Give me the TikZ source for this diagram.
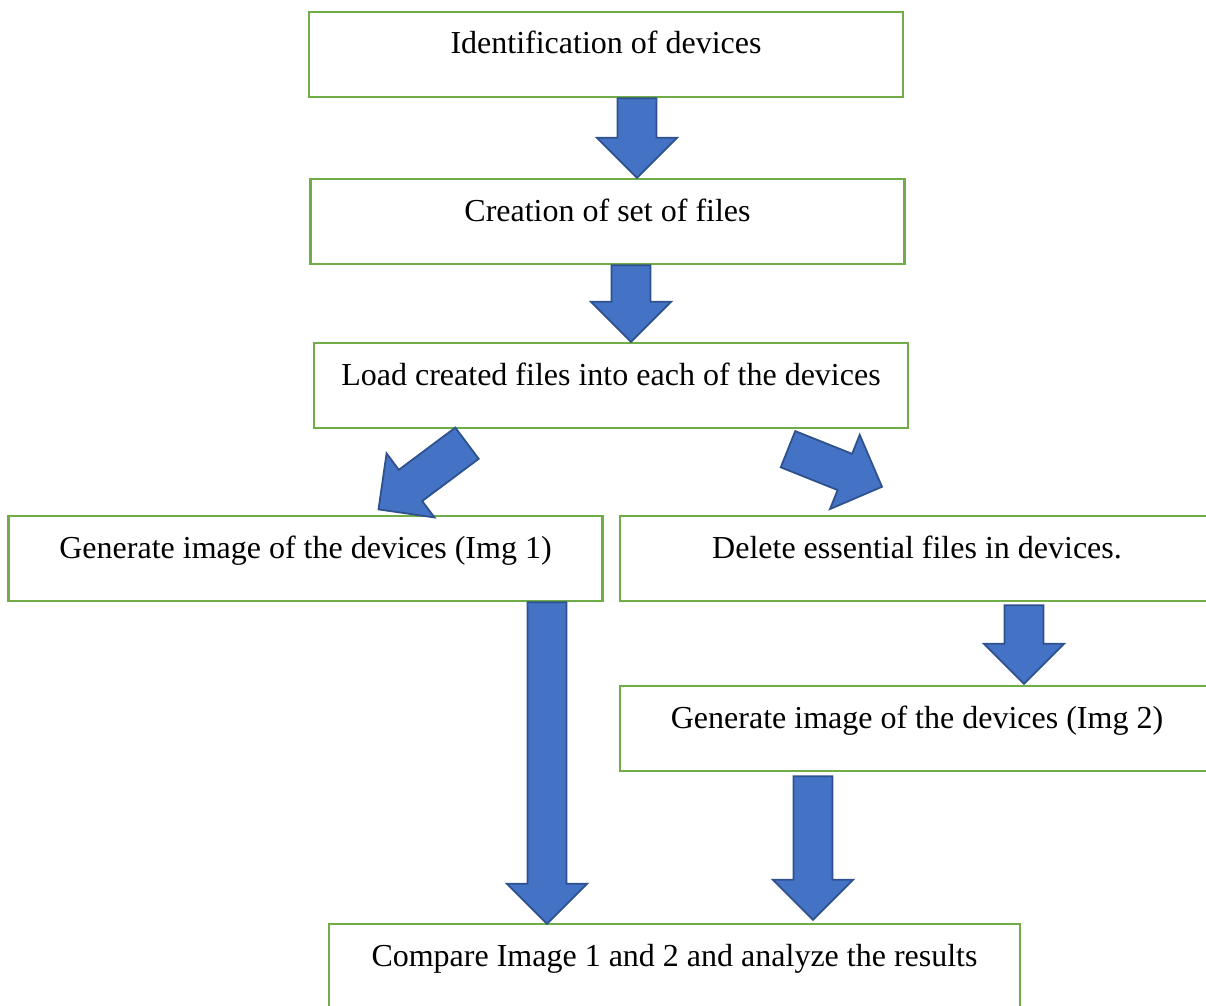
\documentclass[tikz,border=0pt]{standalone}
\usepackage{fontspec}
\setmainfont{Liberation Serif}
\usetikzlibrary{calc,positioning}

\definecolor{boxgreen}{HTML}{70AD47}
\definecolor{arrowblue}{HTML}{4472C4}
\definecolor{arrowedge}{HTML}{2F528F}

% fat arrow from tail point #1 to tip point #2
\newcommand{\fatarrow}[2]{%
	\draw[fat arr] ($(#1)!9.75pt!90:(#2)$) -- ($(#2)!20pt!(#1)!9.75pt!90:(#2)$)
	-- ($(#2)!20pt!(#1)!20pt!90:(#2)$) -- (#2)
	-- ($(#2)!20pt!(#1)!20pt!-90:(#2)$) -- ($(#2)!20pt!(#1)!9.75pt!-90:(#2)$)
	-- ($(#1)!9.75pt!-90:(#2)$) -- cycle;}

\begin{document}
\begin{tikzpicture}[x=0.5pt,y=-0.5pt,
	main box/.style={draw=boxgreen,line width=1.2pt,minimum width=297pt,minimum height=42.5pt,
		inner sep=0pt,text height=11pt,text depth=11.5pt,font=\fontsize{16}{19}\selectfont},
	fat arr/.style={fill=arrowblue,draw=arrowedge,line width=0.9pt,line join=miter}]
	
	\useasboundingbox (0,0) rectangle (1206,1006);
	
	\node[main box] (ident) at (606,54.5) {Identification of devices};
	\node[main box] (create) at (607.5,221.5) {Creation of set of files};
	\node[main box] (load) at (611,385.5) {Load created files into each of the devices};
	\node[main box] (img1) at (305.5,558.5) {Generate image of the devices (Img 1)};
	\node[main box] (delete) at (917,558.5) {Delete essential files in devices.};
	\node[main box] (img2) at (917,728.5) {Generate image of the devices (Img 2)};
	\node[main box,minimum width=345.5pt] (comp) at (674.5,966.5) {Compare Image 1 and 2 and analyze the results};
	
	% arrow ends
	\coordinate (t1) at ([shift={(31,0)}]ident.south);
	\coordinate (h1) at ([shift={(29.5,0)}]create.north);
	\coordinate (t2) at ([shift={(23.5,0)}]create.south);
	\coordinate (h2) at ([shift={(20,0)}]load.north);
	\coordinate (t3) at ([shift={(-144,14)}]load.south);
	\coordinate (h3) at ([shift={(73,-5.4)}]img1.north);
	\coordinate (t4) at ([shift={(177,20)}]load.south);
	\coordinate (h4) at ([shift={(-35,-28)}]delete.north);
	\coordinate (t5) at ([shift={(107,3)}]delete.south);
	\coordinate (h5) at ([shift={(107,-1)}]img2.north);
	\coordinate (t6) at ([shift={(241.5,0)}]img1.south);
	\coordinate (h6) at ([shift={(-127.5,1)}]comp.north);
	\coordinate (t7) at ([shift={(-104,4)}]img2.south);
	\coordinate (h7) at ([shift={(138.5,-3)}]comp.north);
	
	\fatarrow{t1}{h1}
	\fatarrow{t2}{h2}
	\fatarrow{t3}{h3}
	\fatarrow{t4}{h4}
	\fatarrow{t5}{h5}
	\fatarrow{t6}{h6}
	\fatarrow{t7}{h7}
	
\end{tikzpicture}
\end{document}
